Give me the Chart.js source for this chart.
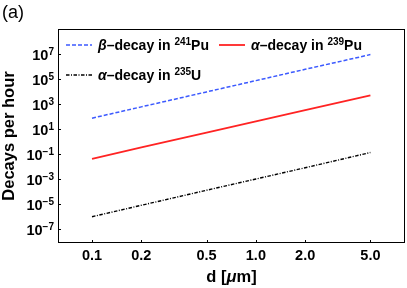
<!DOCTYPE html>
<html><head><meta charset="utf-8">
<script src="https://cdn.jsdelivr.net/npm/chart.js@4/dist/chart.umd.min.js"></script>
<style>html,body{margin:0;padding:0;background:#fff}</style>
</head><body>
<canvas id="c" width="407" height="288" style="display:block;width:407px;height:288px"></canvas>
<script>
// ---- data ----
const diameters  = [0.1, 0.2, 0.5, 1.0, 2.0, 5.0];            // d [µm]
const betaPu241  = [75, 600, 9.4e3, 7.5e4, 6.0e5, 9.0e6];      // decays per hour
const alphaPu239 = [0.042, 0.34, 5.2, 41, 330, 4.9e3];
const alphaU235  = [1.0e-6, 8.2e-6, 1.3e-4, 1.03e-3, 8.2e-3, 0.135];
const xTickValues = [0.1, 0.2, 0.5, 1, 2, 5];
const xTickLabels = ['0.1', '0.2', '0.5', '1.0', '2.0', '5.0'];
const yTickExponents = [-7, -5, -3, -1, 1, 3, 5, 7];
const seriesGreek = ['β', 'α', 'α'];
const seriesIsotopeMass = ['241', '239', '235'];
const seriesElement = ['Pu', 'Pu', 'U'];

const FONT = "'Liberation Sans', Arial, sans-serif";
const BLUE = 'rgb(60,90,255)';
const RED = 'rgb(255,35,35)';
const BLACK = '#000';
const styles = [
  {color: BLUE, width: 1.5, dash: [4, 2]},
  {color: RED, width: 1.8, dash: []},
  {color: BLACK, width: 1.4, dash: [3.5, 1.5, 1, 1.5]}
];
const seriesValues = [betaPu241, alphaPu239, alphaU235];

const datasets = seriesValues.map((vals, k) => ({
  label: seriesGreek[k] + '–decay in ' + seriesIsotopeMass[k] + seriesElement[k],
  data: diameters.map((d, i) => ({x: d, y: vals[i]})),
  borderColor: styles[k].color,
  borderWidth: styles[k].width,
  borderDash: styles[k].dash,
  pointRadius: 0,
  fill: false,
  tension: 0
}));

function drawParts(ctx, x, y, parts) {
  let cx = x;
  for (const p of parts) {
    ctx.font = p.font;
    ctx.fillText(p.t, cx, y + (p.dy || 0));
    cx += ctx.measureText(p.t).width;
  }
  return cx;
}

const decor = {
  id: 'decor',
  afterDatasetsDraw(chart) {
    const ctx = chart.ctx;
    const a = chart.chartArea;
    const xs = chart.scales.x, ys = chart.scales.y;
    ctx.save();
    // frame
    ctx.strokeStyle = '#000';
    ctx.lineWidth = 1;
    ctx.setLineDash([]);
    ctx.strokeRect(Math.round(a.left) + 0.5, Math.round(a.top) + 0.5,
                   Math.round(a.right - a.left) - 1, Math.round(a.bottom - a.top) - 1);
    // inward ticks
    ctx.beginPath();
    for (const v of xTickValues) {
      const px = Math.round(xs.getPixelForValue(v)) + 0.5;
      ctx.moveTo(px, a.bottom); ctx.lineTo(px, a.bottom - 3);
    }
    for (const e of yTickExponents) {
      const py = Math.round(ys.getPixelForValue(Math.pow(10, e))) + 0.5;
      ctx.moveTo(a.left, py); ctx.lineTo(a.left + 3, py);
    }
    ctx.stroke();
    // y tick labels with superscripts
    ctx.fillStyle = '#000';
    ctx.textBaseline = 'alphabetic';
    const baseFont = 'bold 14.5px ' + FONT;
    const supFont = 'bold 10px ' + FONT;
    for (const e of yTickExponents) {
      const py = ys.getPixelForValue(Math.pow(10, e));
      const es = (e < 0 ? '\u2212' : '') + Math.abs(e);
      ctx.font = supFont;
      const we = ctx.measureText(es).width;
      ctx.font = baseFont;
      const wb = ctx.measureText('10').width;
      const xr = a.left - 4;
      ctx.textAlign = 'left';
      ctx.font = baseFont;
      ctx.fillText('10', xr - we - wb, py + 6);
      ctx.font = supFont;
      ctx.fillText(es, xr - we, py + 1);
    }
    // legend
    const leg = [
      {lx: a.left + 8, ly: a.top + 16},
      {lx: a.left + 161, ly: a.top + 16},
      {lx: a.left + 8, ly: a.top + 46}
    ];
    for (let k = 0; k < 3; k++) {
      const {lx, ly} = leg[k];
      ctx.strokeStyle = styles[k].color;
      ctx.lineWidth = styles[k].width;
      ctx.setLineDash(styles[k].dash);
      ctx.beginPath();
      ctx.moveTo(lx, ly); ctx.lineTo(lx + 26, ly);
      ctx.stroke();
      ctx.setLineDash([]);
      ctx.fillStyle = '#000';
      drawParts(ctx, lx + 32, ly + 5, [
        {t: seriesGreek[k], font: 'italic bold 14px ' + FONT},
        {t: '–decay in ', font: 'bold 14px ' + FONT},
        {t: seriesIsotopeMass[k], font: 'bold 10px ' + FONT, dy: -5},
        {t: seriesElement[k], font: 'bold 14px ' + FONT}
      ]);
    }
    // x title
    const parts = [
      {t: 'd [', font: 'bold 16.5px ' + FONT},
      {t: 'μ', font: 'italic bold 16.5px ' + FONT},
      {t: 'm]', font: 'bold 16.5px ' + FONT}
    ];
    let tw = 0;
    for (const p of parts) { ctx.font = p.font; tw += ctx.measureText(p.t).width; }
    drawParts(ctx, (a.left + a.right) / 2 - tw / 2, 282, parts);
    // panel label
    ctx.font = '18px ' + FONT;
    ctx.fillText('(a)', 2, 18);
    ctx.restore();
  }
};

new Chart(document.getElementById('c'), {
  type: 'line',
  data: {datasets},
  options: {
    responsive: false,
    animation: false,
    layout: {padding: {top: 29, right: 2, left: 0, bottom: 0}},
    plugins: {legend: {display: false}, tooltip: {enabled: false}},
    scales: {
      x: {
        type: 'logarithmic', min: 0.062, max: 8.13,
        afterBuildTicks: s => { s.ticks = xTickValues.map(v => ({value: v})); },
        ticks: {
          callback: v => { const i = xTickValues.indexOf(v); return i >= 0 ? xTickLabels[i] : ''; },
          font: {family: FONT, size: 14.5, weight: 'bold'}, color: '#000',
          padding: 4, maxRotation: 0, autoSkip: false
        },
        grid: {display: false, drawTicks: false},
        border: {display: false},
        afterFit: s => { s.height = 45; }
      },
      y: {
        type: 'logarithmic', min: Math.pow(10, -8.1), max: 1e9,
        afterBuildTicks: s => { s.ticks = yTickExponents.map(e => ({value: Math.pow(10, e)})); },
        ticks: {callback: () => ''},
        title: {display: true, text: 'Decays per hour', color: '#000',
                font: {family: FONT, size: 16.5, weight: 'bold'}, padding: {top: 0, bottom: 0}},
        grid: {display: false, drawTicks: false},
        border: {display: false},
        afterFit: s => { s.width = 58; }
      }
    }
  },
  plugins: [decor]
});
</script>
</body></html>
